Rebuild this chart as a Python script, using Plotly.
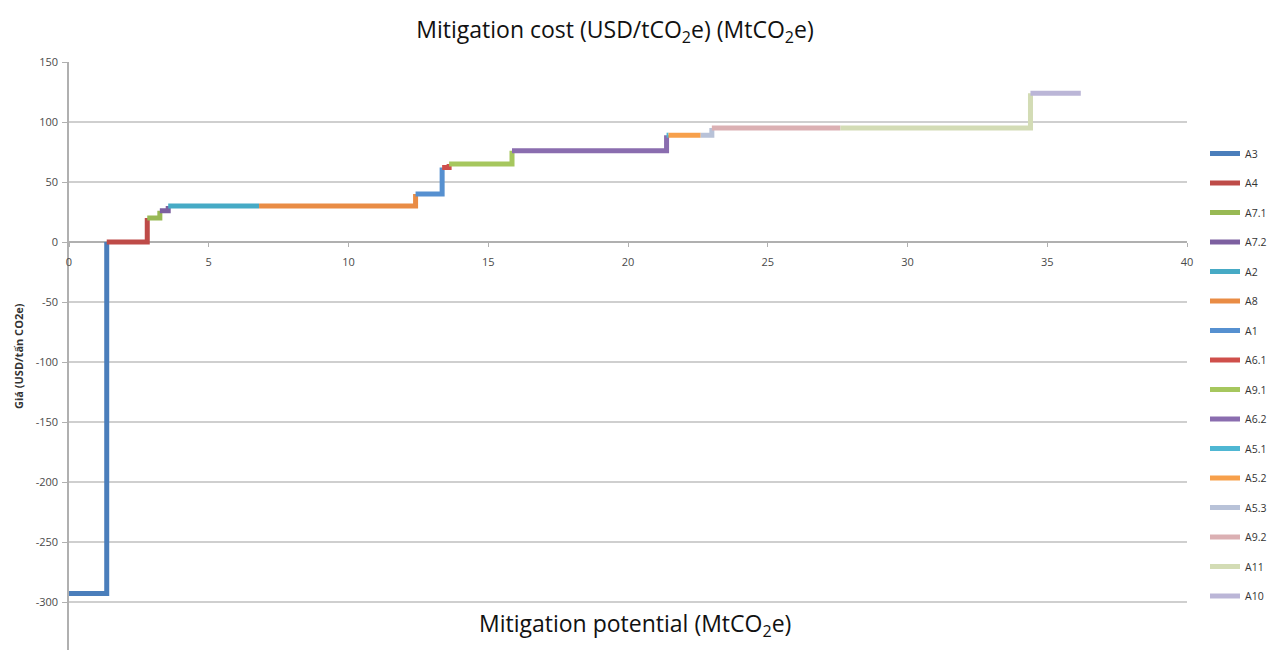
import numpy as np
import plotly.graph_objects as go

# ---- data ----
names = ["A3", "A4", "A7.1", "A7.2", "A2", "A8", "A1", "A6.1", "A9.1", "A6.2",
         "A5.1", "A5.2", "A5.3", "A9.2", "A11", "A10"]
potential = [1.35, 1.45, 0.45, 0.30, 3.25, 5.60, 0.95, 0.25, 2.25, 5.53,
             0.07, 1.15, 0.40, 4.60, 6.80, 1.80]          # MtCO2e
cost = [-293, 0, 20, 26, 30, 30, 40, 62, 65, 76,
        89, 89, 89, 95, 95, 124]                           # USD/tCO2e
colors = ["#4A7EBB", "#BE4B48", "#98B954", "#7D60A0", "#46AAC5", "#E98C45",
          "#5690D0", "#CF4F4B", "#A6C75E", "#8A6DAF", "#4FB7D3", "#F7A04B",
          "#B8C2D8", "#DBB0B3", "#D3DCB5", "#BBB6D7"]
y_ticks = [150, 100, 50, 0, -50, -100, -150, -200, -250, -300]
y_tick_labels = ["150", "100", "50", "0", "-50", "-100", "-150", "-200", "-250", "-300"]
x_ticks = [0, 5, 10, 15, 20, 25, 30, 35, 40]

ends = np.cumsum(potential)
starts = np.concatenate([[0], ends[:-1]])

fig = go.Figure()
for i, n in enumerate(names):
    xs = [starts[i], ends[i]]
    ys = [cost[i], cost[i]]
    if i < len(names) - 1:
        xs.append(ends[i])
        ys.append(cost[i + 1])
    fig.add_trace(go.Scatter(x=xs, y=ys, mode="lines", name=n, legendgroup=n,
                             line=dict(color=colors[i], width=5)))

# page has an 8px body margin: figure occupies 8..1281 x 8..650
W, H = 1273, 642
L, T = 61, 54
PW = 1179 - L            # plot area width (px)
PH = H - T               # plot area height (px)
y_min, y_max = -340, 150

fig.update_layout(
    width=W, height=H,
    paper_bgcolor="white", plot_bgcolor="white",
    margin=dict(l=L, r=W - 1179, t=T, b=0),
    font=dict(family="Open Sans, Arial, sans-serif", size=11, color="#4a4a4a"),
    title=dict(text="Mitigation cost (USD/tCO<sub>2</sub>e) (MtCO<sub>2</sub>e)",
               x=(615 - 8) / W, xref="container", y=1 - (30 - 8) / H, yref="container",
               xanchor="center", yanchor="middle",
               font=dict(family="Open Sans, sans-serif", size=23, color="#111")),
    xaxis=dict(range=[0, 40], tickvals=x_ticks, showgrid=False, zeroline=False,
               showline=True, linecolor="#B0B0B0", linewidth=1.5,
               ticks="outside", ticklen=4, tickcolor="#B0B0B0",
               ticklabelstandoff=6, layer="below traces",
               anchor="free", position=(0 - y_min) / (y_max - y_min),
               tickfont=dict(size=11, color="#4a4a4a")),
    yaxis=dict(range=[y_min, y_max], tickvals=y_ticks, ticktext=y_tick_labels,
               showgrid=True, gridcolor="#CFCFCF", gridwidth=2, zeroline=False,
               showline=True, linecolor="#B0B0B0", linewidth=1.5,
               ticks="outside", ticklen=5, tickcolor="#B0B0B0",
               ticklabelstandoff=2, layer="below traces",
               tickfont=dict(size=11, color="#4a4a4a")),
    legend=dict(x=(1205 - 8 - L) / PW, y=1 - (139 - 8 - T) / PH,
                xref="paper", yref="paper", yanchor="top",
                font=dict(size=10.5, color="#333"), tracegroupgap=10.5,
                traceorder="grouped", bgcolor="rgba(0,0,0,0)"),
    showlegend=True,
)

fig.add_annotation(text="Mitigation potential (MtCO<sub>2</sub>e)",
                   x=(635 - 8 - L) / PW, xref="paper", y=-319, yref="y",
                   showarrow=False, xanchor="center", yanchor="middle",
                   font=dict(family="Open Sans, sans-serif", size=23, color="#111"))
fig.add_annotation(text="<b>Giá (USD/tấn CO2e)</b>", textangle=-90,
                   x=(18 - 8 - L) / PW, xref="paper", y=0.5, yref="paper",
                   showarrow=False, xanchor="center", yanchor="middle",
                   font=dict(size=11, color="#333"))

fig.write_html("out.html")
